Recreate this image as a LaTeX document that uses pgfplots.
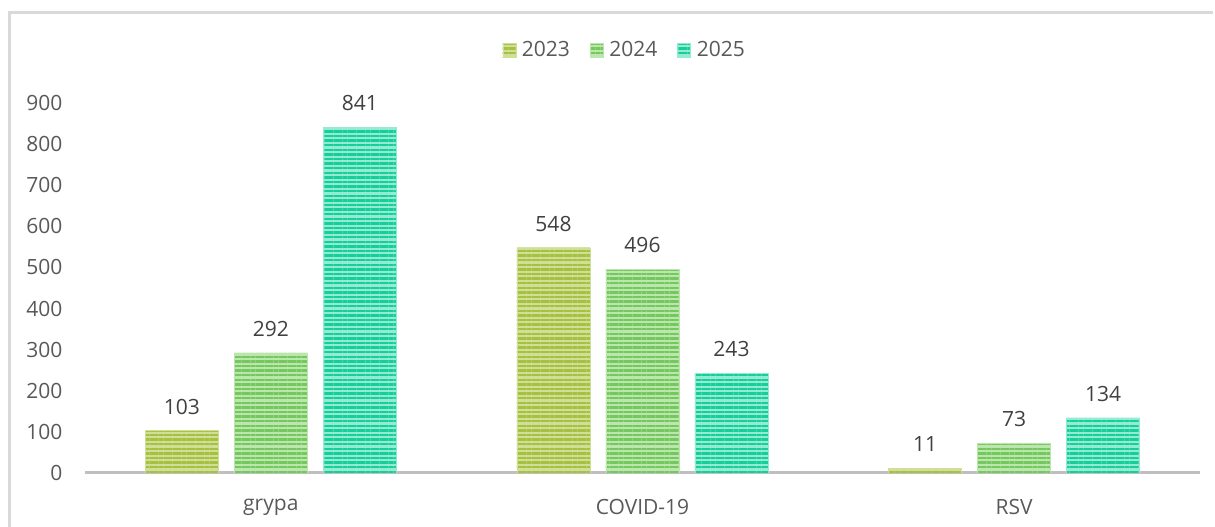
\documentclass[border=0pt]{standalone}
\usepackage{pgfplots}
\pgfplotsset{compat=1.18}
\usepackage{fontspec}
\setmainfont{Open Sans}
\usetikzlibrary{patterns.meta}
\definecolor{cA}{HTML}{A6C040}
\definecolor{cAl}{HTML}{D0DF98}
\definecolor{cB}{HTML}{74C95E}
\definecolor{cBl}{HTML}{BCE6AE}
\definecolor{cC}{HTML}{14CF9A}
\definecolor{cCl}{HTML}{95EAD2}
\definecolor{txt}{HTML}{595959}
\definecolor{txtd}{HTML}{404040}
\begin{document}
\begin{tikzpicture}[x=1pt,y=1pt]
\path[use as bounding box] (-85,-54) rectangle (1130,473);
\draw[line width=3pt, color=black!15] (-75,-60) -- (-75,460.5) -- (1128,460.5);
\begin{axis}[
  at={(0,0)}, anchor=south west,
  scale only axis, width=1115pt, height=370pt,
  xmin=-0.5, xmax=2.5, ymin=0, ymax=900,
  axis x line*=bottom, axis y line*=left,
  y axis line style={draw=none},
  x axis line style={line width=3pt, color=black!25},
  xtick={0,1,2}, xticklabels={grypa,COVID-19,RSV},
  ytick={0,100,...,900},
  major tick length=0pt,
  y tick label style={font=\fontsize{21}{24}\selectfont, text=txt, anchor=east, xshift=-19pt},
  x tick label style={font=\fontsize{21}{24}\selectfont, text=txt, anchor=center, yshift=-34pt},
  /pgf/number format/assume math mode=true,
  ybar=16pt, bar width=73pt,
  nodes near coords,
  every node near coord/.append style={font=\fontsize{21}{24}\selectfont, text=txtd, anchor=center, yshift=24pt},
  legend style={at={(0.484,1.143)}, anchor=center, draw=none, legend columns=3,
    font=\fontsize{21}{24}\selectfont, text=txt, inner sep=0pt,
    /tikz/every odd column/.append style={column sep=4pt},
    /tikz/every even column/.append style={column sep=18pt}},
  legend image code/.code={\draw[#1, draw=none] (0pt,-7pt) rectangle (13pt,7pt);},
]
\addplot[fill=cAl, draw=cAl, postaction={pattern={Lines[angle=0, distance=4.6pt, line width=2.4pt]}, pattern color=cA}] coordinates {(0,103) (1,548) (2,11)};
\addplot[fill=cBl, draw=cBl, postaction={pattern={Lines[angle=0, distance=4.6pt, line width=2.4pt]}, pattern color=cB}] coordinates {(0,292) (1,496) (2,73)};
\addplot[fill=cCl, draw=cCl, postaction={pattern={Lines[angle=0, distance=4.6pt, line width=2.4pt]}, pattern color=cC}] coordinates {(0,841) (1,243) (2,134)};
\legend{2023,2024,2025}
\end{axis}
\end{tikzpicture}
\end{document}
